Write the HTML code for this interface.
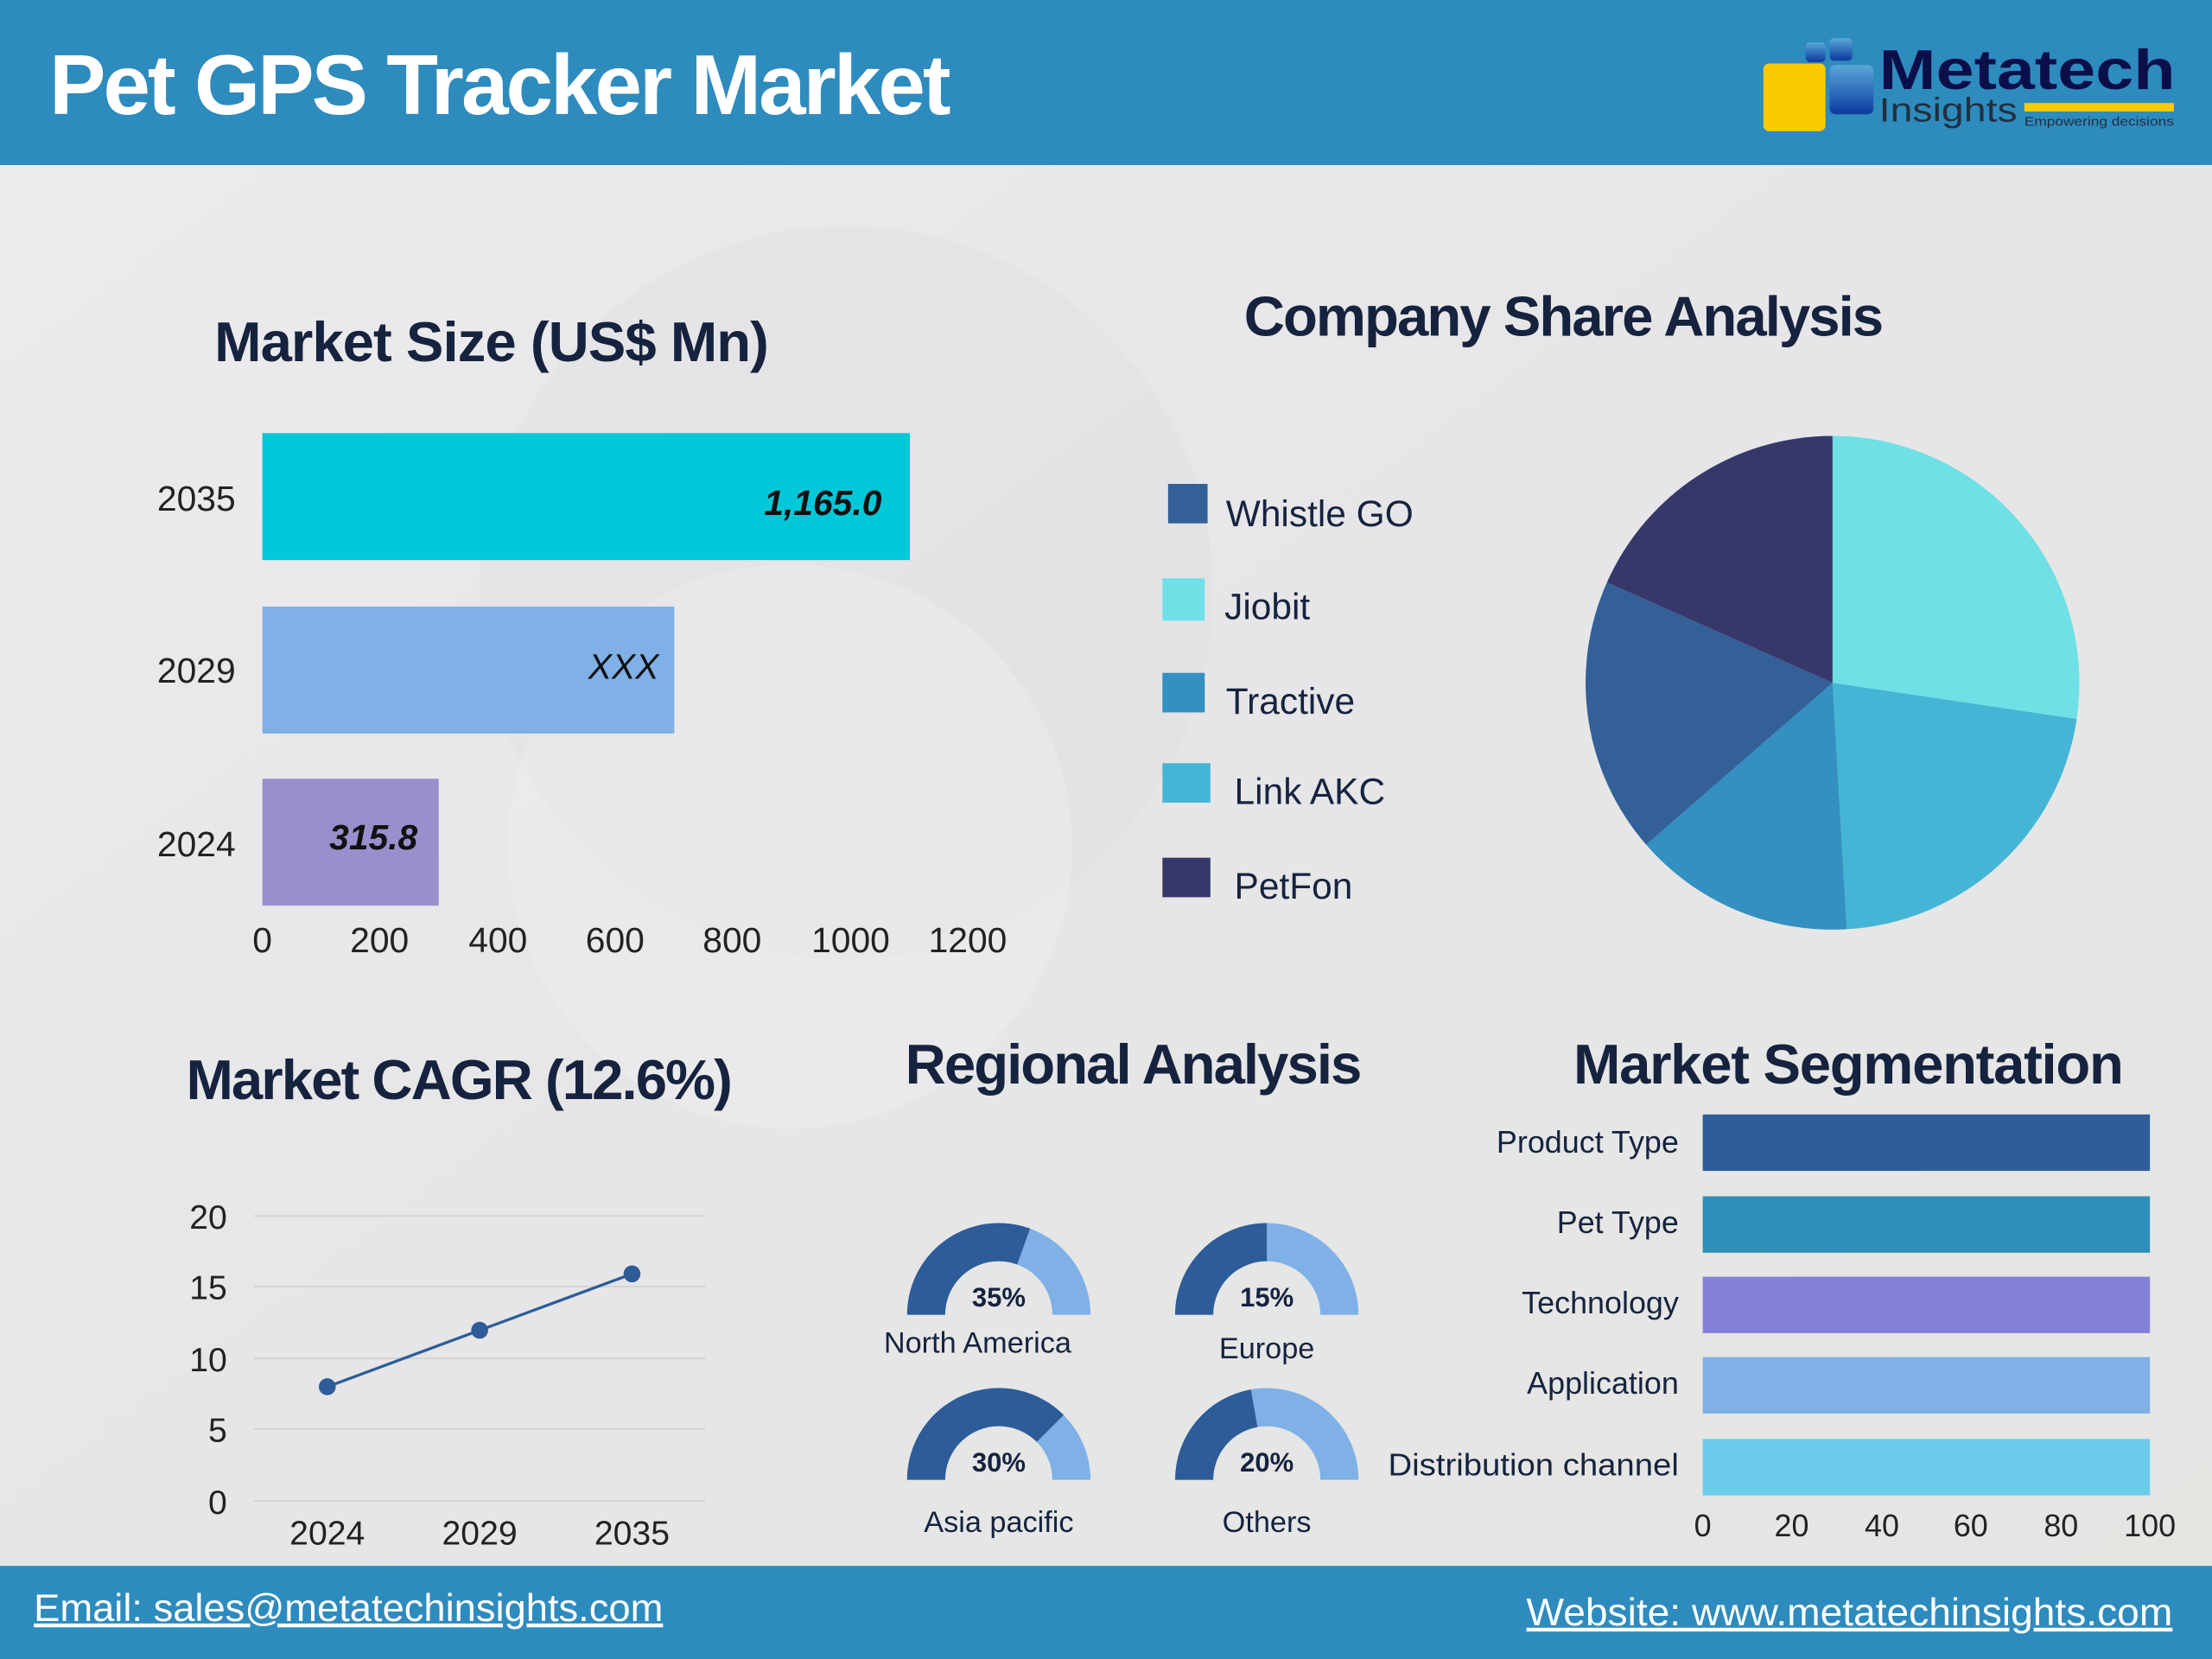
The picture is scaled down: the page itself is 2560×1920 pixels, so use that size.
<!DOCTYPE html>
<html><head><meta charset="utf-8"><style>
html,body{margin:0;padding:0;background:#ebebed;}
svg{display:block;}
text{font-family:"Liberation Sans",sans-serif;}
</style></head><body>
<svg width="2560" height="1920" viewBox="0 0 1568 1176" xmlns="http://www.w3.org/2000/svg">
<defs>
<linearGradient id="bg" x1="0" y1="0" x2="1" y2="1">
<stop offset="0" stop-color="#ececee"/><stop offset="0.5" stop-color="#e6e6e8"/><stop offset="1" stop-color="#e4e6e2"/>
</linearGradient>
<linearGradient id="bl" x1="0" y1="0" x2="0" y2="1"><stop offset="0" stop-color="#5aa8d8"/><stop offset="1" stop-color="#0b3aa0"/></linearGradient>
</defs>
<rect x="0" y="0" width="1568" height="1176" fill="url(#bg)"/>
<ellipse cx="600" cy="420" rx="260" ry="260" fill="#dedee1" opacity="0.4"/>
<ellipse cx="560" cy="600" rx="200" ry="200" fill="#f2f2f3" opacity="0.35"/>
<!-- header -->
<rect x="0" y="0" width="1568" height="117" fill="#2e8bbd"/>
<text x="35" y="81" font-size="60" fill="#fff" font-weight="bold" letter-spacing="-1.8">Pet GPS Tracker Market</text>
<!-- logo -->
<rect x="1250" y="45" width="44" height="48" rx="4" fill="#fcca00"/>
<rect x="1280" y="30" width="14" height="14" rx="3" fill="url(#bl)"/>
<rect x="1297" y="27" width="16" height="16" rx="3" fill="url(#bl)"/>
<rect x="1297" y="46" width="31" height="35" rx="4" fill="url(#bl)"/>
<text x="1332" y="63" font-size="40" font-weight="bold" fill="#0a0f4a" textLength="210" lengthAdjust="spacingAndGlyphs">Metatech</text>
<text x="1332" y="86" font-size="24" fill="#1f3040" textLength="98" lengthAdjust="spacingAndGlyphs">Insights</text>
<rect x="1435" y="73" width="106" height="6" fill="#fcca00"/>
<text x="1435" y="89" font-size="9" fill="#1f3040" textLength="106" lengthAdjust="spacingAndGlyphs">Empowering decisions</text>
<!-- Market size -->
<text x="152" y="256" font-size="40" font-weight="bold" fill="#16233f" letter-spacing="-0.6">Market Size (US$ Mn)</text>
<rect x="186" y="307" width="459" height="90" fill="#00c8d8"/>
<rect x="186" y="430" width="292" height="90" fill="#7fb0e6"/>
<rect x="186" y="552" width="125" height="90" fill="#9890cc"/>
<text x="625" y="365" font-size="25" font-weight="bold" font-style="italic" fill="#111" text-anchor="end">1,165.0</text>
<text x="467" y="481" font-size="25" font-style="italic" fill="#111" text-anchor="end">XXX</text>
<text x="296" y="602" font-size="25" font-weight="bold" font-style="italic" fill="#111" text-anchor="end">315.8</text>
<g font-size="25" fill="#222" text-anchor="end">
<text x="167" y="362">2035</text><text x="167" y="484">2029</text><text x="167" y="607">2024</text>
</g>
<g font-size="25" fill="#222" text-anchor="middle">
<text x="186" y="675">0</text><text x="269" y="675">200</text><text x="353" y="675">400</text><text x="436" y="675">600</text><text x="519" y="675">800</text><text x="603" y="675">1000</text><text x="686" y="675">1200</text>
</g>
<!-- company share -->
<text x="1108" y="238" font-size="40" font-weight="bold" fill="#16233f" text-anchor="middle" letter-spacing="-1.2">Company Share Analysis</text>
<rect x="828" y="343" width="28" height="28" fill="#346098"/>
<rect x="824" y="410" width="30" height="30" fill="#6ee0e6"/>
<rect x="824" y="477" width="30" height="28" fill="#3390c0"/>
<rect x="824" y="541" width="34" height="28" fill="#45b5d5"/>
<rect x="824" y="608" width="34" height="28" fill="#36386a"/>
<g font-size="26" fill="#16233f">
<text x="869" y="373">Whistle GO</text><text x="868" y="439">Jiobit</text><text x="869" y="506">Tractive</text><text x="875" y="570">Link AKC</text><text x="875" y="637">PetFon</text>
</g>
<g transform="translate(1299,484)">
<path d="M0,0 L0,-175 A175,175 0 0 1 173.1,25.7 Z" fill="#6ee0e6"/>
<path d="M0,0 L173.1,25.7 A175,175 0 0 1 10.1,174.7 Z" fill="#45b5d5"/>
<path d="M0,0 L10.1,174.7 A175,175 0 0 1 -132.1,114.8 Z" fill="#3390c0"/>
<path d="M0,0 L-132.1,114.8 A175,175 0 0 1 -159.9,-71.2 Z" fill="#346098"/>
<path d="M0,0 L-159.9,-71.2 A175,175 0 0 1 0,-175 Z" fill="#36386a"/>
</g>
<!-- CAGR -->
<text x="132" y="779" font-size="40" font-weight="bold" fill="#16233f" letter-spacing="-1.2">Market CAGR (12.6%)</text>
<g stroke="#d0d0d0" stroke-width="1">
<line x1="180" y1="862" x2="500" y2="862"/><line x1="180" y1="912" x2="500" y2="912"/><line x1="180" y1="963" x2="500" y2="963"/><line x1="180" y1="1013" x2="500" y2="1013"/><line x1="180" y1="1064" x2="500" y2="1064"/>
</g>
<g font-size="24" fill="#222" text-anchor="end">
<text x="161" y="871">20</text><text x="161" y="921">15</text><text x="161" y="972">10</text><text x="161" y="1022">5</text><text x="161" y="1073">0</text>
</g>
<g font-size="24" fill="#222" text-anchor="middle">
<text x="232" y="1095">2024</text><text x="340" y="1095">2029</text><text x="448" y="1095">2035</text>
</g>
<polyline points="232,983 340,943 448,903" fill="none" stroke="#2d5c98" stroke-width="2"/>
<circle cx="232" cy="983" r="6" fill="#2d5c98"/><circle cx="340" cy="943" r="6" fill="#2d5c98"/><circle cx="448" cy="903" r="6" fill="#2d5c98"/>
<!-- Regional -->
<text x="803" y="768" font-size="40" font-weight="bold" fill="#16233f" text-anchor="middle" letter-spacing="-1.2">Regional Analysis</text>
<g transform="translate(708,932)">
<path d="M-65,0 A65,65 0 0 1 65,0 L38,0 A38,38 0 0 0 -38,0 Z" fill="#7fb0e6"/>
<path d="M-65,0 A65,65 0 0 1 22.2,-61.1 L13,-35.7 A38,38 0 0 0 -38,0 Z" fill="#2d5c98"/>
<text x="0" y="-6" font-size="19" font-weight="bold" fill="#16233f" text-anchor="middle">35%</text>
</g>
<g transform="translate(898,932)">
<path d="M-65,0 A65,65 0 0 1 65,0 L38,0 A38,38 0 0 0 -38,0 Z" fill="#7fb0e6"/>
<path d="M-65,0 A65,65 0 0 1 0,-65 L0,-38 A38,38 0 0 0 -38,0 Z" fill="#2d5c98"/>
<text x="0" y="-6" font-size="19" font-weight="bold" fill="#16233f" text-anchor="middle">15%</text>
</g>
<g transform="translate(708,1049)">
<path d="M-65,0 A65,65 0 0 1 65,0 L38,0 A38,38 0 0 0 -38,0 Z" fill="#7fb0e6"/>
<path d="M-65,0 A65,65 0 0 1 46,-46 L26.9,-26.9 A38,38 0 0 0 -38,0 Z" fill="#2d5c98"/>
<text x="0" y="-6" font-size="19" font-weight="bold" fill="#16233f" text-anchor="middle">30%</text>
</g>
<g transform="translate(898,1049)">
<path d="M-65,0 A65,65 0 0 1 65,0 L38,0 A38,38 0 0 0 -38,0 Z" fill="#7fb0e6"/>
<path d="M-65,0 A65,65 0 0 1 -11.3,-64 L-6.6,-37.4 A38,38 0 0 0 -38,0 Z" fill="#2d5c98"/>
<text x="0" y="-6" font-size="19" font-weight="bold" fill="#16233f" text-anchor="middle">20%</text>
</g>
<g font-size="21" fill="#16233f" text-anchor="middle">
<text x="693" y="959">North America</text><text x="898" y="963">Europe</text><text x="708" y="1086">Asia pacific</text><text x="898" y="1086">Others</text>
</g>
<!-- Segmentation -->
<text x="1310" y="768" font-size="40" font-weight="bold" fill="#16233f" text-anchor="middle" letter-spacing="-0.8">Market Segmentation</text>
<rect x="1207" y="790" width="317" height="40" fill="#2f5d98"/>
<rect x="1207" y="848" width="317" height="40" fill="#2e8fb8"/>
<rect x="1207" y="905" width="317" height="40" fill="#8480d8"/>
<rect x="1207" y="962" width="317" height="40" fill="#7fb0e6"/>
<rect x="1207" y="1020" width="317" height="40" fill="#6ccbea"/>
<g font-size="22" fill="#16233f" text-anchor="end">
<text x="1190" y="817">Product Type</text><text x="1190" y="874">Pet Type</text><text x="1190" y="931">Technology</text><text x="1190" y="988">Application</text><text x="1190" y="1046" textLength="206" lengthAdjust="spacingAndGlyphs">Distribution channel</text>
</g>
<g font-size="22" fill="#222" text-anchor="middle">
<text x="1207" y="1089">0</text><text x="1270" y="1089">20</text><text x="1334" y="1089">40</text><text x="1397" y="1089">60</text><text x="1461" y="1089">80</text><text x="1524" y="1089">100</text>
</g>
<!-- footer -->
<rect x="0" y="1110" width="1568" height="66" fill="#2e8bbd"/>
<text x="24" y="1149" font-size="27" fill="#fff" text-decoration="underline" textLength="446" lengthAdjust="spacingAndGlyphs">Email: sales@metatechinsights.com</text>
<text x="1082" y="1152" font-size="27" fill="#fff" text-decoration="underline" textLength="458" lengthAdjust="spacingAndGlyphs">Website: www.metatechinsights.com</text>
</svg>
</body></html>
